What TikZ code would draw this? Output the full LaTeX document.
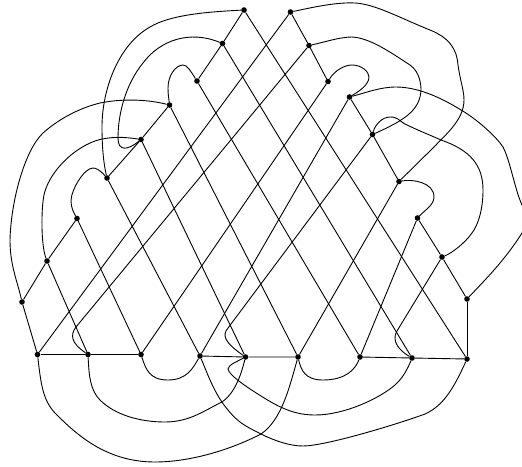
\documentclass[tikz,border=0pt]{standalone}
\tikzset{
  dot/.style={circle,fill=black,draw=none,inner sep=0pt,minimum size=5.6pt},
  edge/.style={draw=black,line width=0.9pt}
}
\begin{document}
\begin{tikzpicture}[x=1pt,y=-1pt]
\useasboundingbox (0,0) rectangle (522,466);
\foreach \n/\x/\y in {a/244/10,b/222.5/43.5,c/197/81,d/169.5/105,e/141/139.5,f/107/178,g/77/218.5,h/47/261,i/22/302,
 j/37.5/354.5,k/88/354.5,l/141/354.5,m/200/356,n/245.5/357,o/298/357,p/360/357,q/412/358,r/467/359,
 A/290.5/12,B/309/45.5,C/328/81.5,D/349.5/97,E/372.5/134.5,F/399/181.5,G/417.5/218,H/442/257,I/467/299}
  {\node[dot] (\n) at (\x,\y) {};}
% straight chains
\draw[edge] (a)--(b)--(c);
\draw[edge] (d)--(e)--(f);
\draw[edge] (g)--(h)--(i);
\draw[edge] (A)--(B)--(C);
\draw[edge] (D)--(E)--(F);
\draw[edge] (G)--(H)--(I);
\draw[edge] (j)--(k)--(l);
\draw[edge] (m)--(n)--(o);
\draw[edge] (p)--(q)--(r);
\draw[edge] (I)--(r);
% diagonals
\draw[edge] (a)--(r);
\draw[edge] (b)--(q);
\draw[edge] (c)--(p);
\draw[edge] (d)--(o);
\draw[edge] (e)--(n);
\draw[edge] (f)--(m);
\draw[edge] (g)--(l);
\draw[edge] (h)--(k);
\draw[edge] (i)--(j);
\draw[edge] (A)--(j);
\draw[edge] (C)--(l);
\draw[edge] (D)--(m);
\draw[edge] (F)--(o);
\draw[edge] (G)--(p);
\draw[edge] (B)--(76,327) .. controls (70,335) and (71,343) .. (k);
\draw[edge] (E)--(228,328) .. controls (222,335) and (224,342) .. (n);
\draw[edge] (H)--(397,331) .. controls (394,336) and (392,346) .. (q);
% upper left curves
\draw[edge] (a) .. controls (205,12) and (170,15) .. (150,27) .. controls (118,45) and (102,90) .. (102,127) .. controls (102,150) and (104,165) .. (f);
\draw[edge] (b) .. controls (190,30) and (160,40) .. (143,63) .. controls (125,85) and (118,115) .. (118,138) .. controls (118,152) and (128,150) .. (e);
\draw[edge] (c) .. controls (190,70) and (187,65) .. (183,65) .. controls (176,65) and (168,75) .. (168,88) .. controls (168,95) and (169,100) .. (d);
\draw[edge] (d) .. controls (150,100) and (125,98) .. (100,103) .. controls (80,108) and (60,118) .. (43,133) .. controls (25,150) and (11,200) .. (10,240) .. controls (10,265) and (17,280) .. (i);
\draw[edge] (e) .. controls (125,137) and (110,136) .. (95,141) .. controls (70,150) and (48,175) .. (44,195) .. controls (41,210) and (41,245) .. (h);
\draw[edge] (f) .. controls (100,170) and (96,168) .. (93,168) .. controls (84,168) and (71,190) .. (71,201) .. controls (71,208) and (74,213) .. (g);
% upper right curves
\draw[edge] (A) .. controls (310,8) and (335,2) .. (355,3) .. controls (375,4) and (400,18) .. (430,30) .. controls (450,38) and (457,50) .. (458,65) .. controls (460,80) and (464,90) .. (464,100) .. controls (464,120) and (445,135) .. (435,146) -- (F);
\draw[edge] (B) .. controls (325,42) and (340,37) .. (352,37) .. controls (370,38) and (390,52) .. (410,65) .. controls (420,72) and (421,85) .. (421,90) .. controls (420,110) and (405,120) .. (E);
\draw[edge] (C) .. controls (335,70) and (345,65) .. (352,65) .. controls (362,65) and (369,72) .. (369,77) .. controls (369,85) and (358,92) .. (D);
\draw[edge] (D) .. controls (365,93) and (380,87) .. (396,87) .. controls (420,87) and (445,100) .. (461,110) .. controls (475,118) and (495,135) .. (503,147) .. controls (510,160) and (515,190) .. (522,205) .. controls (526,215) and (525,225) .. (522,233) .. controls (505,260) and (485,280) .. (I);
\draw[edge] (E) .. controls (375,125) and (382,117) .. (390,117) .. controls (398,117) and (398,120) .. (405,124) .. controls (417,130) and (430,135) .. (441,140) .. controls (470,150) and (483,165) .. (483,190) .. controls (483,210) and (478,225) .. (472,233) .. controls (465,243) and (452,253) .. (H);
\draw[edge] (F) .. controls (412,179) and (434,182) .. (434,197) .. controls (434,205) and (425,210) .. (G);
% bottom curves
\draw[edge] (j) .. controls (41,385) and (43,400) .. (55,413) .. controls (75,433) and (105,462) .. (155,462) .. controls (190,462) and (230,450) .. (261,434) .. controls (282,420) and (290,385) .. (o);
\draw[edge] (k) .. controls (89,375) and (90,390) .. (100,400) .. controls (115,415) and (140,422) .. (165,422) .. controls (190,422) and (205,410) .. (222,402) .. controls (235,393) and (241,375) .. (n);
\draw[edge] (l) .. controls (146,370) and (150,380) .. (168,380) .. controls (187,380) and (193,368) .. (m);
\draw[edge] (m) .. controls (208,375) and (215,395) .. (228,410) .. controls (240,425) and (250,428) .. (261,434) .. controls (275,441) and (290,446) .. (303,446) .. controls (325,446) and (395,425) .. (425,414) .. controls (445,405) and (455,385) .. (r);
\draw[edge] (n) .. controls (238,361) and (228,365) .. (228,369) .. controls (229,375) and (245,386) .. (261,396) .. controls (280,408) and (295,415) .. (315,415) .. controls (345,415) and (380,398) .. (395,385) .. controls (403,378) and (408,368) .. (q);
\draw[edge] (o) .. controls (301,370) and (305,380) .. (323,380) .. controls (345,380) and (355,370) .. (p);
\end{tikzpicture}
\end{document}
